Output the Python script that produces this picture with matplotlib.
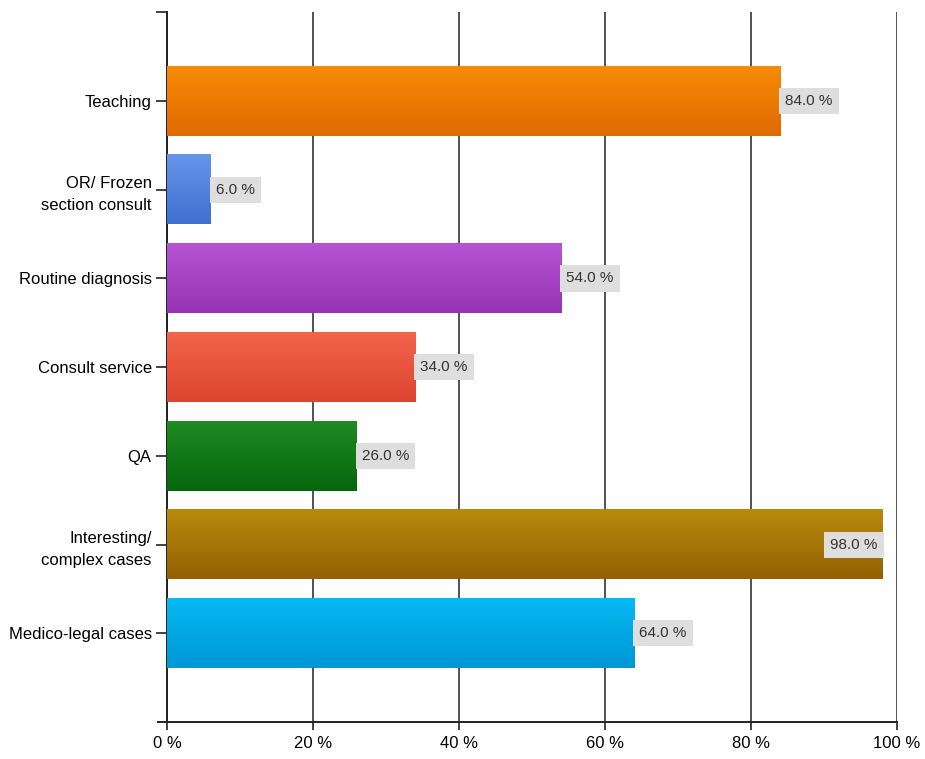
import numpy as np
import matplotlib
matplotlib.use("Agg")
import matplotlib.pyplot as plt
from matplotlib.colors import LinearSegmentedColormap

plt.rcParams['font.family'] = ['Liberation Sans Narrow', 'Liberation Sans', 'DejaVu Sans']

# ---------------- data ----------------
categories = ["Teaching", "OR/ Frozen\nsection consult", "Routine diagnosis",
              "Consult service", "QA", "Interesting/\ncomplex cases",
              "Medico-legal cases"]
values = [84.0, 6.0, 54.0, 34.0, 26.0, 98.0, 64.0]
top_colors = ["#f78b05", "#6695ea", "#b853d6", "#f4644c", "#1f8a22", "#bb8a0c", "#05baf2"]
bottom_colors = ["#e06a02", "#3f6fd0", "#9534b2", "#dc4430", "#06660d", "#936003", "#0096d6"]
xticks = [0, 20, 40, 60, 80, 100]

fig = plt.figure(figsize=(9.25, 7.59), dpi=100)
ax = fig.add_axes([0.1805, 0.0487, 0.789, 0.935])

ypos = np.arange(1, len(categories) + 1)
bars = ax.barh(ypos, values, height=0.78, color="none", edgecolor="none", zorder=3)

# vertical gradient inside each bar
grad = np.linspace(0, 1, 256).reshape(-1, 1)
for b, c1, c2 in zip(bars, top_colors, bottom_colors):
    cmap = LinearSegmentedColormap.from_list("g", [c1, c2])
    x0, y0 = b.get_x(), b.get_y()
    w, h = b.get_width(), b.get_height()
    # y axis is inverted, so y0 is the top edge on screen
    ax.imshow(grad, cmap=cmap, aspect="auto", extent=(x0, x0 + w, y0 + h, y0),
              zorder=3, interpolation="bicubic")

# value labels
box = dict(boxstyle="square,pad=0.4", fc="#dedede", ec="none")
for y, v in zip(ypos, values):
    txt = "%.1f %%" % v
    if v > 90:
        ax.text(v - 0.6, y, txt, ha="right", va="center", fontsize=11, color="#333333",
                zorder=5, bbox=box)
    else:
        ax.text(v + 0.7, y, txt, ha="left", va="center", fontsize=11, color="#333333",
                zorder=5, bbox=box)

ax.set_xlim(0, 100)
ax.set_ylim(8, 0)
ax.set_xticks(xticks)
ax.set_xticklabels(["%d %%" % t for t in xticks], fontsize=12)
ax.set_yticks(ypos)
ax.set_yticklabels(categories, fontsize=12, linespacing=1.55)
ax.set_yticks([0], minor=True)
ax.tick_params(axis="y", which="both", length=8, width=1.2, color="#222222", pad=3)
ax.tick_params(axis="x", length=6, width=1.2, color="#222222", pad=4)

ax.grid(axis="x", color="#222222", linewidth=1.1, zorder=1)
ax.set_axisbelow(True)
for s in ["top", "right"]:
    ax.spines[s].set_visible(False)
ax.spines["left"].set_color("#222222")
ax.spines["left"].set_linewidth(1.4)
ax.spines["bottom"].set_color("#222222")
ax.spines["bottom"].set_linewidth(1.4)
ax.spines["bottom"].set_bounds(-1.2, 100)
ax.spines["bottom"].set_clip_on(False)

fig.savefig("out.png", dpi=100)
